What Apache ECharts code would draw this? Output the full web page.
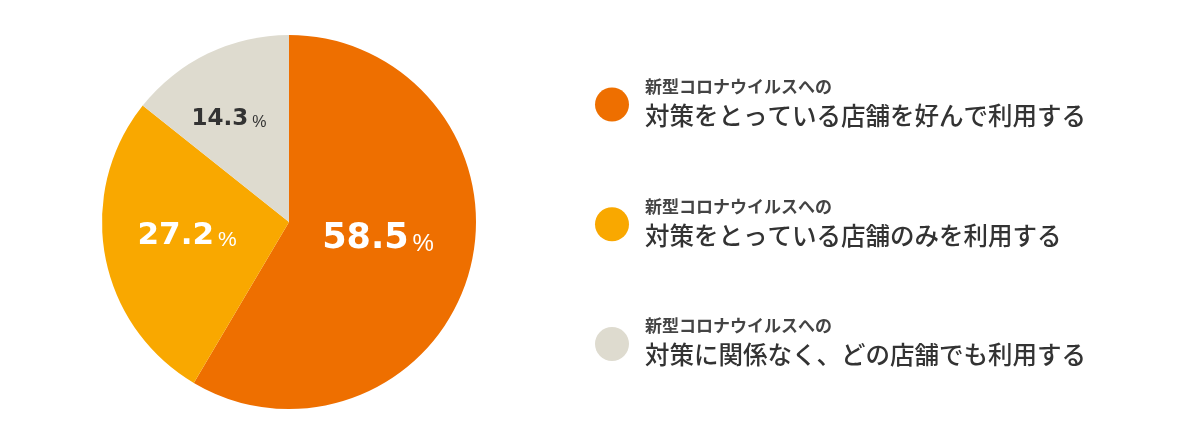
<!DOCTYPE html>
<html>
<head>
<meta charset="utf-8">
<script src="https://cdn.jsdelivr.net/npm/echarts@6/dist/echarts.min.js"></script>
<style>
  html, body { margin: 0; padding: 0; background: #fff; }
  #chart { width: 1200px; height: 445px; }
</style>
</head>
<body>
<div id="chart"></div>
<script>
// データ
const prefix = '新型コロナウイルスへの';
const categories = [
  '対策をとっている店舗を好んで利用する',
  '対策をとっている店舗のみを利用する',
  '対策に関係なく、どの店舗でも利用する'
];
const values = [58.5, 27.2, 14.3];

// 見た目
const colors = ['#ee6f00', '#f9a800', '#dedbcf'];
const labelColors = ['#fff', '#fff', '#333'];
const labelSizes = [35, 31, 23];
const labelOffsets = [[-4, -9], [-7, -4], [-18, -16]];

const chart = echarts.init(document.getElementById('chart'));

const pieData = categories.map((name, i) => ({
  name: name,
  value: values[i],
  itemStyle: { color: colors[i] },
  label: {
    offset: labelOffsets[i],
    rich: {
      v: {
        fontFamily: 'DejaVu Sans',
        fontWeight: 'bold',
        fontSize: labelSizes[i],
        color: labelColors[i]
      },
      p: {
        fontFamily: 'Liberation Sans',
        fontSize: Math.round(labelSizes[i] * 0.68),
        color: labelColors[i],
        padding: [0, 0, 0, 4],
        verticalAlign: 'bottom'
      }
    }
  }
}));

chart.setOption({
  animation: false,
  legend: {
    orient: 'vertical',
    left: 590,
    top: 73,
    icon: 'circle',
    itemWidth: 34,
    itemHeight: 34,
    itemGap: 70,
    selectedMode: false,
    data: categories,
    formatter: function (name) {
      return '{s|' + prefix + '}\n{b|' + name + '}';
    },
    textStyle: {
      padding: [0, 0, 0, 11],
      rich: {
        s: {
          fontFamily: 'Noto Sans CJK JP',
          fontWeight: 'bold',
          fontSize: 17,
          color: '#444',
          lineHeight: 22
        },
        b: {
          fontFamily: 'Noto Sans CJK JP',
          fontWeight: 500,
          fontSize: 24.5,
          color: '#333',
          lineHeight: 36
        }
      }
    }
  },
  series: [
    {
      type: 'pie',
      center: [289, 222],
      radius: [0, 187],
      startAngle: 90,
      clockwise: true,
      silent: true,
      label: {
        show: true,
        position: 'inside',
        formatter: '{v|{c}}{p|%}'
      },
      labelLine: { show: false },
      data: pieData
    }
  ]
});
</script>
</body>
</html>
